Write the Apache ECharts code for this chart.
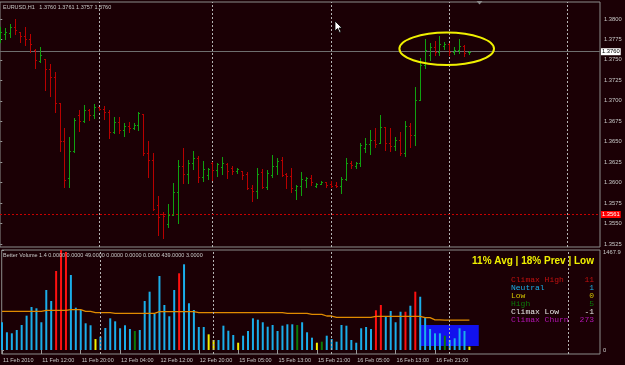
<!DOCTYPE html>
<html><head><meta charset="utf-8">
<script src="https://cdn.jsdelivr.net/npm/echarts@6/dist/echarts.min.js"></script>
<style>html,body{margin:0;padding:0;background:#1b0005;}#c{width:625px;height:365px;}</style>
</head><body><div id="c"></div>
<script>
// ---- price bars (EURUSD H1), one entry per bar ----
const opens = [
1.3777,1.3782,1.3783,1.3790,1.3784,1.3779,1.3776,1.3762,1.3749,1.3751,
1.3739,1.3729,1.3697,1.3651,1.3606,1.3639,1.3683,1.3675,1.3689,1.3683,
1.3692,1.3690,1.3686,1.3662,1.3674,1.3664,1.3669,1.3667,1.3670,1.3684,
1.3636,1.3628,1.3573,1.3562,1.3549,1.3560,1.3589,1.3620,1.3611,1.3624,
1.3630,1.3607,1.3609,1.3624,1.3615,1.3619,1.3623,1.3618,1.3614,1.3614,
1.3611,1.3593,1.3590,1.3613,1.3595,1.3609,1.3620,1.3628,1.3611,1.3608,
1.3591,1.3596,1.3603,1.3606,1.3596,1.3598,1.3601,1.3598,1.3597,1.3596,
1.3604,1.3624,1.3620,1.3624,1.3642,1.3647,1.3652,1.3648,1.3668,1.3648,
1.3645,1.3652,1.3636,1.3669,1.3658,1.3701,1.3744,1.3756,1.3766,1.3760,
1.3767,1.3769,1.3760,1.3762,1.3767,1.3760];
const closes = [
1.3784,1.3784,1.3790,1.3787,1.3779,1.3776,1.3769,1.3750,1.3756,1.3739,
1.3729,1.3697,1.3651,1.3603,1.3639,1.3677,1.3675,1.3689,1.3683,1.3692,
1.3690,1.3686,1.3662,1.3674,1.3664,1.3669,1.3667,1.3670,1.3685,1.3636,
1.3628,1.3568,1.3558,1.3559,1.3560,1.3589,1.3620,1.3611,1.3624,1.3630,
1.3607,1.3617,1.3617,1.3615,1.3623,1.3624,1.3614,1.3614,1.3617,1.3609,
1.3593,1.3590,1.3611,1.3595,1.3612,1.3620,1.3626,1.3609,1.3608,1.3593,
1.3596,1.3604,1.3606,1.3601,1.3598,1.3601,1.3597,1.3596,1.3596,1.3604,
1.3624,1.3622,1.3624,1.3646,1.3647,1.3652,1.3647,1.3668,1.3648,1.3645,
1.3652,1.3636,1.3669,1.3658,1.3701,1.3744,1.3762,1.3766,1.3760,1.3769,
1.3769,1.3760,1.3762,1.3767,1.3758,1.3760];
const lows = [
1.3772,1.3776,1.3778,1.3782,1.3772,1.3768,1.3760,1.3740,1.3747,1.3713,
1.3706,1.3686,1.3639,1.3595,1.3595,1.3637,1.3663,1.3674,1.3677,1.3679,
1.3689,1.3678,1.3655,1.3661,1.3661,1.3657,1.3662,1.3666,1.3664,1.3634,
1.3607,1.3567,1.3536,1.3532,1.3546,1.3560,1.3551,1.3600,1.3600,1.3617,
1.3601,1.3602,1.3604,1.3603,1.3608,1.3611,1.3606,1.3611,1.3612,1.3604,
1.3592,1.3578,1.3581,1.3593,1.3592,1.3607,1.3611,1.3608,1.3593,1.3589,
1.3580,1.3585,1.3595,1.3597,1.3595,1.3598,1.3595,1.3595,1.3595,1.3587,
1.3603,1.3618,1.3618,1.3620,1.3637,1.3635,1.3644,1.3648,1.3640,1.3639,
1.3640,1.3634,1.3633,1.3644,1.3646,1.3701,1.3740,1.3750,1.3756,1.3756,
1.3763,1.3756,1.3757,1.3758,1.3755,1.3757];
const highs = [
1.3790,1.3789,1.3794,1.3800,1.3784,1.3790,1.3782,1.3763,1.3766,1.3751,
1.3745,1.3735,1.3697,1.3667,1.3656,1.3679,1.3689,1.3695,1.3690,1.3696,
1.3692,1.3694,1.3689,1.3680,1.3680,1.3673,1.3674,1.3673,1.3686,1.3684,
1.3651,1.3636,1.3584,1.3564,1.3574,1.3600,1.3628,1.3642,1.3628,1.3639,
1.3633,1.3626,1.3618,1.3625,1.3624,1.3631,1.3624,1.3620,1.3618,1.3614,
1.3613,1.3597,1.3618,1.3617,1.3615,1.3634,1.3630,1.3631,1.3612,1.3618,
1.3597,1.3613,1.3607,1.3609,1.3600,1.3602,1.3601,1.3602,1.3601,1.3607,
1.3630,1.3626,1.3625,1.3648,1.3655,1.3664,1.3667,1.3683,1.3668,1.3667,
1.3656,1.3662,1.3675,1.3673,1.3717,1.3752,1.3776,1.3771,1.3773,1.3779,
1.3772,1.3771,1.3766,1.3776,1.3768,1.3761];

// ---- Better Volume indicator ----
const volumes = [
407,260,245,294,367,504,631,612,407,881,
719,1160,1468,1440,1101,621,587,392,363,161,
195,323,465,421,319,363,308,279,294,719,
856,533,1086,661,495,881,1126,1258,686,587,
338,338,230,147,147,357,283,220,107,210,
279,465,445,407,342,367,279,357,377,377,
367,407,260,181,107,122,210,161,122,367,
357,147,107,319,338,308,583,661,489,573,
407,562,562,650,856,782,474,308,245,245,
210,147,172,319,279,49];
// N = neutral, C = climax high, L = low, H = high
const volTypes = [
'N','N','N','N','N','N','N','N','N','N',
'N','C','C','C','N','N','N','N','N','L',
'N','N','N','N','N','N','N','H','N','N',
'N','N','N','N','N','N','C','N','N','N',
'N','N','L','L','N','N','N','N','L','N',
'N','N','N','N','N','N','N','N','N','N',
'H','N','N','N','L','H','N','N','N','N',
'N','N','N','N','N','N','C','C','N','N',
'N','N','C','N','C','N','N','N','N','N',
'H','N','N','N','N','L'];
const volAverage = [
568,568,568,568,568,568,568,568,568,583,
583,583,583,583,592,592,592,568,568,548,
548,548,548,539,539,539,539,539,539,539,
539,539,562,562,562,562,562,562,562,562,
548,548,548,548,548,548,548,548,548,548,
548,548,548,548,548,548,548,548,539,539,
539,539,539,524,524,524,499,499,480,480,
480,480,480,480,480,480,495,495,495,495,
495,495,495,495,495,495,474,474,441,441,
440,440,440,439,439,439];
const volBox = {fromBar:84.9, toBar:96.9, low:59, high:367};
const volMax = 1467.9;
const volMinLabel = '0';

// ---- axes / annotations ----
const timeLabels = ['11 Feb 2010','11 Feb 12:00','11 Feb 20:00','12 Feb 04:00','12 Feb 12:00','12 Feb 20:00',
  '15 Feb 05:00','15 Feb 13:00','15 Feb 21:00','16 Feb 05:00','16 Feb 13:00','16 Feb 21:00'];
const timeLabelBars = [0,8,16,24,32,40,48,56,64,72,80,88];
const priceTicks = [1.3525,1.3550,1.3575,1.3600,1.3625,1.3650,1.3675,1.3700,1.3725,1.3750,1.3775,1.3800];
const daySeparators = [20,43,67,91,115];
const bidPrice = 1.3760;
const levelPrice = 1.3561;
const legendRows = [
  ['Climax High','11','#c41010'],
  ['Neutral','1','#1aaee8'],
  ['Low','0','#d2c200'],
  ['High','5','#0a7a0a'],
  ['Climax Low','-1','#e6e6e6'],
  ['Climax Churn','273','#b414b4']
];

const BG = '#1b0005';
const UP = '#10a010', DN = '#b80000';
const volColor = {N:'#1aaeea', C:'#ff1010', L:'#f2f200', H:'#0a7a0a'};
const FONT = 'Liberation Sans';
const xMin = -0.06, xMax = 121.54;

const chart = echarts.init(document.getElementById('c'), null, {renderer:'canvas'});
const ohlc = opens.map((o,i)=>[i,o,closes[i],lows[i],highs[i]]);
const volData = volumes.map((v,i)=>({value:[i,v], itemStyle:{color:volColor[volTypes[i]]}}));
const avgData = volAverage.map((v,i)=>[i,v]);

const sepData = daySeparators.map(d=>({xAxis:d, lineStyle:{color:'#b4b4b4', type:[2,2], width:1}, label:{show:false}}));

const legendGraphics = [];
legendRows.forEach((r,i)=>{
  const y = 279.5 + i*8;
  legendGraphics.push({type:'text', x:511, y:y, z:50, style:{text:r[0], fill:r[2], font:'8px Liberation Mono', textVerticalAlign:'middle'}});
  legendGraphics.push({type:'text', x:594, y:y, z:50, style:{text:r[1], fill:r[2], font:'8px Liberation Mono', textAlign:'right', textVerticalAlign:'middle'}});
});

const option = {
  backgroundColor: BG,
  animation: false,
  grid: [
    {left:0, top:2, width:600, height:245, show:true, borderColor:'#8c8c8c', borderWidth:1, backgroundColor:'transparent'},
    {left:0, top:250, width:600, height:104, show:true, borderColor:'#8c8c8c', borderWidth:1, backgroundColor:'transparent'}
  ],
  xAxis: [
    {type:'value', gridIndex:0, min:xMin, max:xMax, show:false},
    {type:'value', gridIndex:1, min:xMin, max:xMax,
      axisLine:{show:false}, splitLine:{show:false},
      axisTick:{show:true, customValues:timeLabelBars, length:4, lineStyle:{color:'#9a9a9a'}},
      axisLabel:{show:true, customValues:timeLabelBars, formatter:(v)=>timeLabels[timeLabelBars.indexOf(Math.round(v))],
        color:'#c8c8c8', fontSize:5.5, fontFamily:FONT, align:'left', margin:3, padding:[0,0,0,1]}}
  ],
  yAxis: [
    {type:'value', gridIndex:0, position:'right', min:1.352127, max:1.382078,
      splitLine:{show:false}, axisLine:{show:false},
      axisTick:{show:true, customValues:priceTicks, length:2, lineStyle:{color:'#9a9a9a'}},
      axisLabel:{show:true, customValues:priceTicks, formatter:(v)=>v.toFixed(4), color:'#c8c8c8', fontSize:5.8, fontFamily:FONT, margin:4}},
    {type:'value', gridIndex:1, position:'right', min:-58.7, max:volMax,
      splitLine:{show:false}, axisLine:{show:false},
      axisTick:{show:true, customValues:[0, volMax], length:2, lineStyle:{color:'#9a9a9a'}},
      axisLabel:{show:true, customValues:[0, volMax],
        formatter:(v)=> v>1 ? '{t|'+volMax.toFixed(1)+'}' : volMinLabel,
        rich:{t:{padding:[5,0,0,0], color:'#c8c8c8', fontSize:5.8, fontFamily:FONT}},
        color:'#c8c8c8', fontSize:5.8, fontFamily:FONT, margin:3}}
  ],
  series: [
    {
      type:'custom', xAxisIndex:0, yAxisIndex:0, z:5,
      data: ohlc,
      encode:{x:0, y:[1,2,3,4]},
      clip:true,
      renderItem:(params, api)=>{
        const k=api.value(0), o=api.value(1), c=api.value(2), l=api.value(3), h=api.value(4);
        const pH=api.coord([k,h]), pL=api.coord([k,l]), pO=api.coord([k,o]), pC=api.coord([k,c]);
        const x=Math.round(pH[0])+0.5;
        const col = c>=o ? UP : DN;
        const yo=Math.round(pO[1])+0.5, yc=Math.round(pC[1])+0.5;
        return {type:'group', children:[
          {type:'line', shape:{x1:x, y1:Math.round(pH[1]), x2:x, y2:Math.round(pL[1])+1}, style:{stroke:col, lineWidth:1}},
          {type:'line', shape:{x1:x-1.5, y1:yo, x2:x, y2:yo}, style:{stroke:col, lineWidth:1}},
          {type:'line', shape:{x1:x, y1:yc, x2:x+1.5, y2:yc}, style:{stroke:col, lineWidth:1}}
        ]};
      }
    },
    {
      type:'line', xAxisIndex:0, yAxisIndex:0, z:3, data:[], silent:true,
      markLine: {
        silent:true, symbol:'none', animation:false, precision:6,
        data: sepData.concat([
          {yAxis:bidPrice, lineStyle:{color:'#6e6e6e', type:'solid', width:1},
            label:{show:true, position:'end', distance:1, formatter:bidPrice.toFixed(4), color:'#000', backgroundColor:'#ffffff', padding:[1,1,0,1], fontSize:5.8, fontFamily:FONT}},
          {yAxis:levelPrice, lineStyle:{color:'#c80000', type:[2,2], width:1},
            label:{show:true, position:'end', distance:1, formatter:levelPrice.toFixed(4), color:'#fff', backgroundColor:'#ff0000', padding:[1,1,0,1], fontSize:5.8, fontFamily:FONT}}
        ])
      }
    },
    {
      type:'line', xAxisIndex:1, yAxisIndex:1, z:1, data:[], silent:true,
      markArea:{silent:true, itemStyle:{color:'#1212ee'},
        data:[[{xAxis:volBox.fromBar, yAxis:volBox.low},{xAxis:volBox.toBar, yAxis:volBox.high}]]},
      markLine: {silent:true, symbol:'none', animation:false, precision:6, data: sepData}
    },
    {
      type:'bar', xAxisIndex:1, yAxisIndex:1, z:3, barWidth:2, data:volData, silent:true
    },
    {
      type:'line', xAxisIndex:1, yAxisIndex:1, z:4, data:avgData, symbol:'none', silent:true,
      lineStyle:{color:'#e08a00', width:1.3}
    }
  ],
  graphic: [
    {type:'text', x:3, y:7, z:50, style:{text:'EURUSD,H1   1.3760 1.3761 1.3757 1.3760', fill:'#c8c8c8', font:'5.5px Liberation Sans', textVerticalAlign:'middle'}},
    {type:'text', x:3, y:255, z:50, style:{text:'Better Volume 1.4 0.0000 0.0000 49.0000 0.0000 0.0000 0.0000 439.0000 3.0000', fill:'#c8c8c8', font:'5.5px Liberation Sans', textVerticalAlign:'middle'}},
    {type:'text', x:594, y:261.5, z:50, style:{text:'11% Avg | 18% Prev | Low', fill:'#f0f000', font:'bold 10px Liberation Sans', textAlign:'right', textVerticalAlign:'middle'}},
    {type:'ellipse', z:60, shape:{cx:446.7, cy:48.8, rx:47.3, ry:16.2}, style:{fill:'none', stroke:'#f0f000', lineWidth:2}},
    {type:'polygon', z:60, shape:{points:[[335,21],[335,31],[337.5,28.5],[339.5,32.5],[341,32],[339,28],[342,28]]}, style:{fill:'#ffffff', stroke:'#000000', lineWidth:0.8}},
    {type:'polygon', z:60, shape:{points:[[476.5,1],[482.5,1],[479.5,4.5]]}, style:{fill:'#8a8a8a'}},
    ...legendGraphics
  ]
};
chart.setOption(option);
</script>
</body></html>
